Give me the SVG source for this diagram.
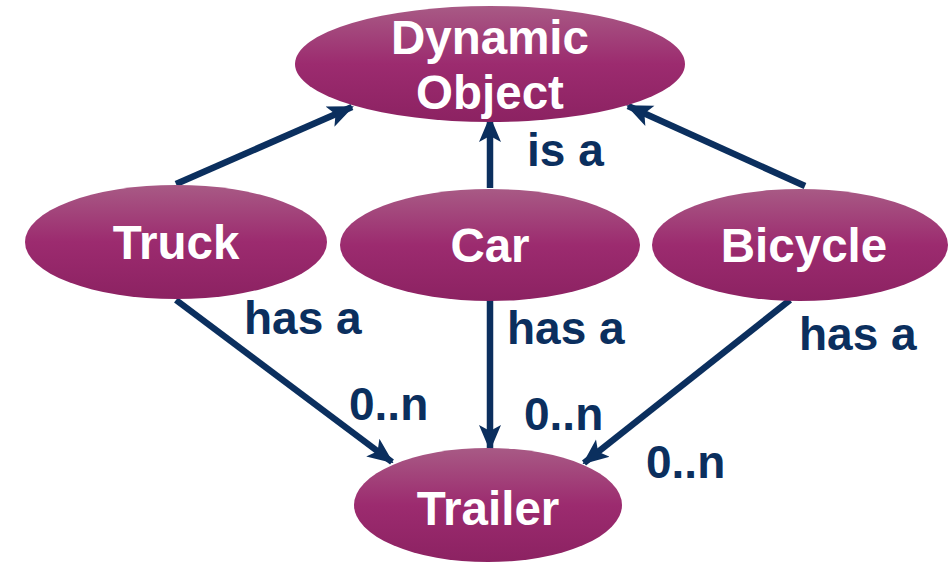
<svg xmlns="http://www.w3.org/2000/svg" width="950" height="562" viewBox="0 0 950 562">
<defs>
<linearGradient id="g" x1="0" y1="0" x2="0" y2="1">
<stop offset="0" stop-color="#a85a85"/>
<stop offset="0.5" stop-color="#9c2b6f"/>
<stop offset="1" stop-color="#8c2262"/>
</linearGradient>
<marker id="ah" markerUnits="userSpaceOnUse" markerWidth="26" markerHeight="26" viewBox="0 0 26 26" refX="24" refY="13" orient="auto">
<path d="M0,2 L26,13 L0,24 L6,13 Z" fill="#0b2f5e"/>
</marker>
<style>
.n{fill:url(#g)}
.t{font-family:"Liberation Sans",Arial,sans-serif;font-weight:bold;font-size:47.5px;fill:#fff;text-anchor:middle}
.l{font-family:"Liberation Sans",Arial,sans-serif;font-weight:bold;font-size:46px;fill:#0b2f5e}
.c{stroke:#0b2f5e;stroke-width:6.5;fill:none;marker-end:url(#ah)}
</style>
</defs>
<g id="connectors">
<line class="c" x1="176" y1="184" x2="352" y2="107"/>
<line class="c" x1="490" y1="188" x2="490" y2="118"/>
<line class="c" x1="805" y1="186" x2="628" y2="106"/>
<line class="c" x1="176" y1="300" x2="392" y2="462"/>
<line class="c" x1="490" y1="300" x2="490" y2="449"/>
<line class="c" x1="790" y1="300" x2="584" y2="463"/>
</g>
<g id="labels">
<text class="l" x="527" y="166">is a</text>
<text class="l" x="244" y="334">has a</text>
<text class="l" x="507" y="344">has a</text>
<text class="l" x="799" y="350">has a</text>
<text class="l" x="349" y="420">0..n</text>
<text class="l" x="524" y="430">0..n</text>
<text class="l" x="646" y="478">0..n</text>
</g>
<g id="dynamic-object">
<ellipse class="n" cx="490" cy="64" rx="195" ry="58"/>
<text class="t" x="490" y="54">Dynamic</text>
<text class="t" x="490" y="109">Object</text>
</g>
<g id="truck">
<ellipse class="n" cx="176" cy="242" rx="151" ry="57"/>
<text class="t" x="176" y="259">Truck</text>
</g>
<g id="car">
<ellipse class="n" cx="490" cy="245" rx="150" ry="56"/>
<text class="t" x="490" y="262">Car</text>
</g>
<g id="bicycle">
<ellipse class="n" cx="800" cy="245" rx="148" ry="56"/>
<text class="t" x="804" y="262">Bicycle</text>
</g>
<g id="trailer">
<ellipse class="n" cx="488" cy="505" rx="134" ry="57"/>
<text class="t" x="488" y="525">Trailer</text>
</g>
</svg>
